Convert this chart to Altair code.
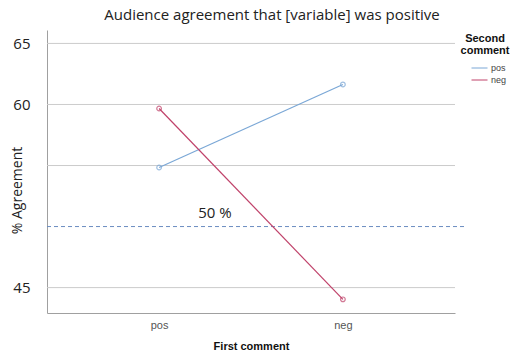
import altair as alt
import pandas as pd

first_comment = ["pos", "pos", "neg", "neg"]
second_comment = ["pos", "neg", "pos", "neg"]
agreement = [54.84, 59.67, 61.64, 44.04]

grid_values = [45, 55, 60, 65]
label_values = [45, 60, 65]
ref_value = [50]
ref_label = ["50 %"]

df = pd.DataFrame({"first": first_comment, "second": second_comment, "agree": agreement})
grid_df = pd.DataFrame({"v": grid_values})
ref_df = pd.DataFrame({"v": ref_value, "t": ref_label})

W, H = 408, 283
ydom = [42.92, 66.1]
blue = "#7aa7d6"
red = "#c0426a"

yscale = alt.Scale(domain=ydom, nice=False, zero=False)

grid = alt.Chart(grid_df).mark_rule(color="#cccccc", strokeWidth=1).encode(
    y=alt.Y("v:Q", scale=yscale),
    x=alt.value(0), x2=alt.value(W),
)

ref = alt.Chart(ref_df).mark_rule(color="#6b8cc0", strokeWidth=1, strokeDash=[4, 3]).encode(
    y=alt.Y("v:Q", scale=yscale),
    x=alt.value(0), x2=alt.value(W + 10),
)

ref_text = alt.Chart(ref_df).mark_text(
    font="Open Sans", fontSize=15, color="#222222", dy=-14
).encode(
    y=alt.Y("v:Q", scale=yscale),
    x=alt.value(168),
    text="t:N",
)

color = alt.Color(
    "second:N",
    scale=alt.Scale(domain=["pos", "neg"], range=[blue, red]),
    legend=alt.Legend(
        title=["Second", "comment"],
        orient="none", legendX=414, legendY=3,
        titleFont="Liberation Sans", titleFontSize=11, titleFontWeight="bold",
        titleColor="#111111", titleAlign="center", titleAnchor="middle",
        titlePadding=6, titleLineHeight=12,
        symbolType="stroke", symbolSize=256, symbolStrokeWidth=1,
        symbolOffset=8, clipHeight=12, rowPadding=0,
        labelFont="Liberation Sans", labelFontSize=9, labelColor="#444444",
        labelOffset=3,
    ),
)

lines = alt.Chart(df).mark_line(strokeWidth=1.2).encode(
    x=alt.X("first:N", sort=["pos", "neg"],
            scale=alt.Scale(type="point", padding=0.61),
            axis=alt.Axis(title="First comment", labelAngle=0, ticks=False,
                          domainColor="#a0a0a0", labelFont="Liberation Sans",
                          labelFontSize=11, labelColor="#555555", labelPadding=6,
                          titleFont="Liberation Sans", titleFontSize=11,
                          titleFontWeight="bold", titleColor="#111111",
                          titlePadding=10, grid=False)),
    y=alt.Y("agree:Q", scale=yscale,
            axis=alt.Axis(title="% Agreement", values=label_values, ticks=False,
                          grid=False, domainColor="#a0a0a0",
                          labelFont="Open Sans", labelFontSize=15,
                          labelColor="#222222", labelPadding=17,
                          titleFont="Open Sans", titleFontSize=14,
                          titleFontWeight="normal", titleColor="#222222",
                          titleX=-23, titleY=160)),
    color=color,
    detail="second:N",
)

points = alt.Chart(df).mark_point(shape="circle", filled=False, size=22, strokeWidth=1.2).encode(
    x=alt.X("first:N", sort=["pos", "neg"], scale=alt.Scale(type="point", padding=0.61)),
    y=alt.Y("agree:Q", scale=yscale),
    color=alt.Color("second:N", scale=alt.Scale(domain=["pos", "neg"], range=[blue, red]), legend=None),
)

chart = alt.layer(grid, ref, ref_text, lines, points).properties(
    width=W, height=H,
    background="white",
    title=alt.TitleParams(
        "Audience agreement that [variable] was positive",
        font="Open Sans", fontSize=15, fontWeight="normal", color="#222222",
        anchor="middle", dx=21, offset=7,
    ),
    autosize=alt.AutoSizeParams(type="none"),
    padding={"left": 47, "top": 30, "right": 56, "bottom": 42},
).configure_view(stroke=None)

chart.save("out.html", embed_options={"renderer": "svg", "actions": False})
